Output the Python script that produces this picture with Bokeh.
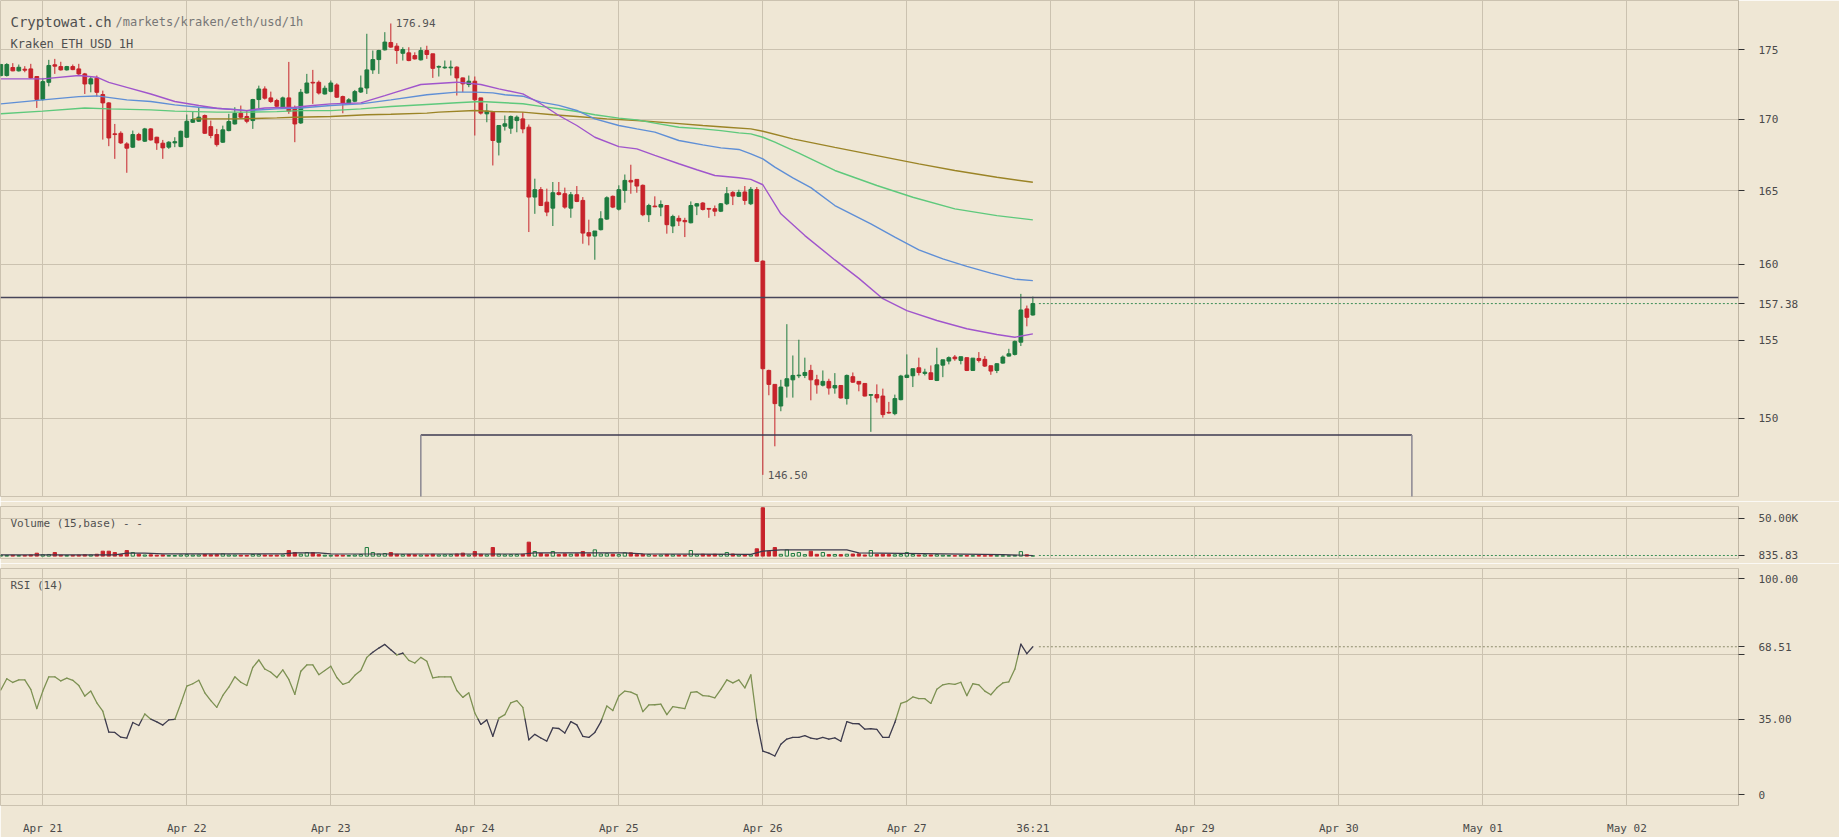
import pandas as pd
from bokeh.plotting import figure
from bokeh.layouts import column
from bokeh.models import Range1d, FixedTicker, Span, Label
from bokeh.embed import file_html
from bokeh.resources import INLINE
from bokeh.core.properties import value

# ---------------- data ----------------
first_candle = "2019-04-20 17:00"          # hourly candles from here on
day_starts = ["2019-04-21", "2019-04-22", "2019-04-23", "2019-04-24", "2019-04-25", "2019-04-26",
              "2019-04-27", "2019-04-28", "2019-04-29", "2019-04-30", "2019-05-01", "2019-05-02"]
day_labels = ["Apr 21", "Apr 22", "Apr 23", "Apr 24", "Apr 25", "Apr 26",
              "Apr 27", "", "Apr 29", "Apr 30", "May 01", "May 02"]
countdown_label = "36:21"
view_start = "2019-04-20 16:57"
view_end = "2019-05-02 18:36"

opens = [
    173.13, 173.13, 173.71, 173.47, 173.59, 173.61, 173.06, 171.40, 172.64, 173.91,
    173.78, 173.54, 173.78, 173.61, 173.25, 172.52, 172.94, 171.76, 171.16, 168.96,
    169.00, 168.25, 168.02, 168.91, 168.44, 169.31, 168.72, 168.30, 168.02, 168.32,
    168.06, 168.72, 169.78, 169.85, 170.26, 169.47, 168.91, 168.37, 169.19, 169.66,
    170.42, 170.19, 169.90, 171.40, 172.16, 171.52, 171.33, 170.80, 171.52, 170.80,
    169.73, 171.87, 172.64, 172.64, 171.80, 171.99, 172.45, 171.61, 171.14, 171.28,
    171.94, 172.23, 173.54, 174.29, 175.00, 175.54, 175.27, 174.75, 174.78, 174.58,
    174.27, 174.95, 174.71, 173.74, 173.69, 173.69, 173.74, 172.96, 172.48, 172.72,
    171.52, 170.38, 170.50, 168.37, 169.50, 169.36, 169.90, 170.02, 169.43, 164.55,
    165.06, 164.20, 163.79, 164.85, 164.78, 163.79, 164.71, 164.32, 162.12, 161.89,
    162.32, 163.04, 164.60, 163.72, 165.01, 165.70, 165.77, 165.36, 163.34, 163.93,
    163.86, 163.97, 162.57, 163.09, 162.95, 162.79, 163.93, 164.14, 163.77, 163.75,
    163.58, 164.09, 164.87, 164.60, 164.90, 164.09, 165.06, 160.20, 153.04, 152.15,
    150.78, 152.04, 152.44, 152.70, 152.72, 153.04, 152.44, 152.10, 152.34, 151.92,
    152.08, 151.25, 152.64, 152.34, 152.21, 151.46, 151.50, 151.41, 150.38, 150.30,
    151.18, 152.59, 152.70, 153.21, 152.85, 152.89, 152.40, 153.38, 153.64, 153.90,
    153.68, 153.86, 153.04, 153.81, 153.75, 153.34, 153.04, 153.51, 153.96, 154.07,
    154.86, 157.03, 156.63]
highs = [
    173.98, 174.03, 174.03, 173.93, 173.81, 173.98, 173.06, 172.96, 174.27, 174.34,
    174.13, 173.83, 173.93, 173.98, 173.32, 173.06, 173.13, 172.04, 171.21, 169.66,
    169.14, 168.37, 169.19, 169.03, 169.38, 169.36, 168.75, 168.53, 168.44, 168.72,
    169.19, 170.33, 170.57, 170.85, 170.33, 169.90, 169.31, 169.54, 170.38, 170.85,
    170.97, 170.66, 171.45, 172.40, 172.35, 171.97, 171.45, 171.61, 174.12, 170.97,
    172.16, 173.25, 173.54, 172.77, 172.40, 172.77, 172.57, 171.68, 171.50, 172.09,
    173.13, 176.18, 174.95, 175.00, 176.30, 176.94, 175.49, 175.19, 175.19, 174.82,
    175.19, 175.30, 174.71, 173.86, 174.22, 174.22, 173.80, 172.98, 173.13, 173.06,
    171.52, 171.10, 170.55, 169.55, 170.26, 170.26, 170.26, 170.50, 169.62, 165.82,
    165.24, 165.13, 165.59, 165.59, 165.20, 164.90, 165.31, 164.55, 163.00, 162.23,
    163.58, 164.60, 164.66, 165.36, 166.11, 166.79, 165.77, 165.42, 164.09, 164.60,
    164.32, 163.97, 163.34, 163.29, 163.13, 164.25, 164.14, 164.20, 163.77, 163.97,
    164.14, 165.24, 164.96, 165.06, 165.31, 165.24, 165.24, 160.25, 153.09, 152.15,
    152.44, 156.03, 154.00, 155.02, 153.86, 153.40, 152.76, 153.04, 152.51, 152.87,
    152.08, 152.78, 152.91, 152.34, 152.21, 151.50, 152.15, 151.88, 151.04, 151.50,
    152.76, 154.07, 153.15, 153.86, 153.15, 153.36, 154.50, 153.72, 153.94, 154.03,
    153.92, 153.86, 153.83, 154.22, 153.96, 153.34, 153.51, 154.00, 154.43, 154.97,
    158.02, 157.25, 157.84]
lows = [
    173.06, 173.06, 173.44, 173.42, 173.37, 172.89, 170.80, 171.33, 172.35, 173.25,
    173.49, 173.49, 173.52, 173.13, 171.80, 171.92, 171.61, 168.55, 168.09, 167.20,
    168.25, 166.23, 167.97, 168.48, 168.39, 168.48, 167.83, 167.20, 167.90, 168.02,
    168.02, 168.67, 169.73, 169.80, 168.96, 168.65, 168.06, 168.32, 169.14, 169.62,
    170.02, 169.71, 169.31, 170.76, 171.40, 171.16, 170.80, 170.73, 170.38, 168.37,
    169.66, 171.83, 171.09, 171.76, 171.76, 171.92, 171.52, 170.42, 171.09, 171.21,
    171.87, 171.80, 173.25, 173.25, 174.95, 175.15, 173.98, 174.22, 174.17, 174.29,
    174.22, 174.34, 172.96, 173.06, 173.62, 173.13, 171.69, 171.93, 172.29, 168.84,
    170.33, 169.78, 166.74, 167.44, 169.19, 168.96, 169.07, 169.00, 162.16, 163.40,
    163.93, 163.24, 162.57, 164.66, 163.75, 163.13, 164.20, 161.37, 161.26, 160.29,
    162.27, 162.99, 163.79, 163.63, 164.16, 164.78, 164.85, 163.24, 162.84, 163.86,
    163.24, 162.05, 162.09, 162.57, 161.82, 162.75, 163.31, 163.63, 163.13, 163.24,
    163.52, 164.00, 164.00, 164.55, 164.02, 164.00, 160.14, 146.50, 151.46, 148.26,
    150.45, 151.31, 151.31, 152.55, 152.55, 151.14, 151.56, 152.02, 151.50, 151.56,
    151.25, 150.87, 152.25, 151.71, 151.39, 149.16, 151.00, 150.05, 150.30, 150.20,
    151.14, 152.55, 151.98, 152.72, 152.72, 152.44, 152.36, 152.61, 153.43, 153.66,
    153.43, 153.00, 153.04, 153.55, 153.26, 152.76, 152.87, 153.47, 153.94, 154.00,
    154.61, 155.89, 156.59]
closes = [
    173.93, 173.93, 173.47, 173.73, 173.52, 172.96, 171.40, 172.69, 173.86, 173.81,
    173.54, 173.78, 173.56, 173.25, 172.52, 172.89, 171.92, 171.16, 168.67, 168.91,
    168.32, 167.95, 168.91, 168.53, 169.31, 168.53, 168.32, 167.97, 168.37, 168.41,
    169.14, 169.85, 169.97, 170.14, 169.00, 168.84, 168.20, 169.24, 169.83, 170.42,
    170.14, 169.85, 171.40, 172.16, 171.50, 171.26, 170.92, 171.52, 170.57, 169.66,
    171.92, 172.59, 172.59, 171.87, 172.21, 172.59, 171.57, 171.16, 171.38, 171.97,
    172.23, 173.54, 174.29, 174.95, 175.57, 175.20, 174.95, 175.02, 174.22, 174.34,
    174.95, 174.66, 173.65, 173.79, 173.74, 173.74, 172.96, 172.53, 172.72, 171.38,
    170.43, 170.57, 168.49, 169.55, 169.67, 170.19, 170.14, 169.31, 164.55, 165.06,
    163.97, 163.52, 164.85, 164.73, 163.86, 164.71, 164.25, 162.09, 161.89, 162.23,
    163.06, 164.50, 163.86, 165.06, 165.70, 165.59, 165.31, 163.34, 163.97, 163.88,
    164.04, 162.66, 163.22, 162.91, 162.86, 163.97, 164.09, 163.70, 163.72, 163.58,
    164.09, 164.78, 164.62, 164.87, 164.32, 165.08, 160.18, 153.15, 152.15, 150.93,
    151.98, 152.51, 152.72, 152.74, 152.91, 152.44, 152.12, 152.34, 151.92, 152.08,
    151.29, 152.72, 152.29, 152.17, 151.41, 151.50, 151.29, 150.24, 150.34, 151.25,
    152.68, 152.74, 153.15, 152.91, 152.93, 152.46, 153.40, 153.72, 153.86, 153.79,
    153.92, 153.04, 153.83, 153.68, 153.32, 153.00, 153.47, 153.90, 154.11, 154.91,
    156.96, 156.48, 157.38]
volumes = [
    1200, 900, 1100, 800, 900, 1500, 3900, 1800, 2200, 4800, 1200, 900,
    1000, 1300, 1800, 1500, 2500, 6600, 6600, 4800, 2000, 7500, 4800, 2600,
    1500, 1800, 1200, 1600, 900, 800, 1500, 2000, 1400, 1600, 2200, 1800,
    2000, 3000, 1500, 1400, 1200, 1000, 2200, 2000, 1500, 1200, 1300, 1500,
    7500, 4800, 2600, 4800, 4800, 2000, 1200, 1000, 1500, 1200, 800, 1500,
    2200, 11500, 4800, 2800, 3500, 4800, 2400, 2000, 2200, 1800, 1500, 1600,
    2500, 1600, 1800, 2000, 2800, 4000, 1500, 6200, 2500, 1800, 11500, 2500,
    1800, 2000, 2200, 2500, 18700, 6200, 3500, 2500, 6200, 2000, 3000, 2500,
    3000, 6200, 2800, 8400, 2800, 3200, 2500, 2000, 4400, 4400, 2000, 2500,
    2000, 1200, 1500, 2200, 1800, 1500, 1200, 7500, 2000, 2500, 1800, 2500,
    2200, 4800, 2800, 1500, 1800, 1600, 9800, 64800, 6600, 11500, 2400, 8400,
    3500, 4800, 2000, 6600, 2400, 4800, 2000, 2200, 2000, 2500, 2800, 3000,
    1500, 7500, 2200, 2500, 2000, 1800, 2200, 4800, 2200, 1500, 1800, 1600,
    2000, 1200, 800, 600, 900, 700, 600, 800, 500, 700, 600, 500,
    500, 900, 6000, 1800, 500]
rsi = [
    48.5, 53.7, 52.0, 53.2, 53.2, 48.8, 39.9, 48.0, 54.6, 54.6, 52.7, 54.0,
    53.0, 50.6, 45.7, 48.0, 42.6, 38.7, 29.0, 28.9, 26.7, 26.3, 33.5, 32.1,
    37.4, 35.0, 33.8, 32.3, 34.7, 34.9, 42.3, 50.3, 51.4, 53.0, 47.2, 43.6,
    40.5, 46.0, 49.8, 54.6, 52.1, 50.6, 59.0, 62.4, 58.2, 56.7, 54.3, 57.8,
    53.4, 46.5, 57.2, 60.1, 60.1, 55.6, 57.5, 59.5, 54.3, 51.1, 52.1, 55.3,
    57.5, 63.6, 66.0, 67.9, 69.6, 67.1, 64.7, 65.6, 62.2, 61.0, 63.6, 61.8,
    54.1, 54.6, 54.6, 54.6, 48.3, 45.1, 47.2, 37.9, 32.6, 34.7, 27.1, 35.5,
    37.1, 42.6, 43.6, 40.5, 25.5, 28.0, 26.3, 24.9, 31.0, 30.7, 28.6, 33.9,
    32.4, 27.1, 26.6, 28.9, 33.8, 41.1, 39.0, 45.7, 48.0, 47.5, 46.3, 38.5,
    41.6, 41.7, 42.0, 37.1, 40.8, 40.4, 39.9, 47.4, 47.7, 45.9, 45.7, 44.9,
    48.8, 53.2, 51.8, 53.2, 49.5, 55.5, 34.2, 20.2, 19.3, 18.0, 23.4, 25.8,
    26.6, 26.6, 27.4, 26.3, 25.8, 26.6, 25.8, 26.4, 24.8, 33.9, 33.0, 32.9,
    30.4, 30.6, 30.3, 26.6, 26.6, 33.5, 42.3, 43.3, 45.3, 44.5, 44.5, 42.3,
    48.9, 50.9, 51.5, 51.1, 52.1, 45.9, 51.4, 50.9, 48.0, 46.3, 49.5, 51.8,
    52.3, 58.2, 69.7, 65.3, 68.51]

# moving averages read at points (hours after Apr 21 00:00)
ma_fast_hours = [-7, 0, 6, 9, 11, 14, 18, 22, 26, 29, 34, 37, 42, 45, 48, 53, 57, 59, 63, 69, 73, 76, 80, 83,
                 86, 89, 92, 96, 99, 102, 106, 109, 112, 116, 118, 120, 123, 127, 132, 136, 140, 144, 149,
                 154, 159, 162, 165]
ma_fast = [172.89, 172.89, 173.13, 173.01, 172.64, 172.28, 171.80, 171.26, 170.97, 170.78, 170.61, 170.80,
           170.85, 170.97, 171.09, 171.16, 171.68, 171.95, 172.48, 172.65, 172.48, 172.17, 171.81, 171.10,
           170.26, 169.55, 168.72, 168.06, 167.90, 167.44, 166.86, 166.44, 166.04, 165.88, 165.77, 165.40,
           163.40, 161.92, 160.28, 159.05, 157.70, 156.92, 156.27, 155.73, 155.36, 155.18, 155.40]
ma_mid_hours = [-7, 0, 6, 9, 14, 18, 22, 26, 32, 34, 39, 43, 48, 53, 58, 64, 69, 72, 75, 77, 80, 83, 86, 89,
                92, 96, 99, 102, 106, 110, 113, 116, 118, 120, 122, 125, 128, 132, 138, 142, 146, 150, 154,
                158, 162, 165]
ma_mid = [171.09, 171.38, 171.61, 171.66, 171.38, 171.26, 171.02, 170.85, 170.69, 170.61, 170.73, 170.80,
          170.97, 171.09, 171.38, 171.74, 171.93, 171.93, 171.88, 171.74, 171.64, 171.22, 170.98, 170.62,
          170.02, 169.55, 169.31, 169.08, 168.49, 168.18, 167.97, 167.86, 167.55, 167.20, 166.62, 165.88,
          165.20, 163.97, 162.72, 161.81, 160.95, 160.35, 159.85, 159.40, 159.00, 158.90]
ma_slow_hours = [-7, 0, 7, 11, 18, 22, 29, 34, 39, 43, 48, 53, 58, 64, 69, 73, 77, 80, 83, 86, 89, 92, 96,
                 99, 102, 106, 110, 113, 116, 118, 120, 122, 126, 132, 139, 145, 152, 159, 165]
ma_slow = [170.38, 170.57, 170.80, 170.73, 170.66, 170.57, 170.50, 170.50, 170.54, 170.61, 170.61, 170.73,
           170.90, 171.05, 171.17, 171.26, 171.17, 171.10, 170.91, 170.74, 170.55, 170.31, 170.07, 169.95,
           169.72, 169.43, 169.31, 169.19, 169.03, 168.96, 168.72, 168.37, 167.60, 166.39, 165.35, 164.54,
           163.74, 163.28, 162.99]
ma_long_hours = [25, 32, 39, 42, 48, 54, 58, 64, 66, 72, 75, 80, 85, 89, 94, 99, 105, 110, 114, 118, 120,
                 125, 132, 139, 146, 152, 159, 165]
ma_long = [170.02, 170.02, 170.09, 170.14, 170.19, 170.31, 170.35, 170.43, 170.50, 170.62, 170.55, 170.50,
           170.31, 170.19, 170.02, 169.90, 169.72, 169.55, 169.43, 169.31, 169.14, 168.60, 168.01, 167.43,
           166.85, 166.39, 165.92, 165.57]
vol_ma_hours = [-7, 12, 14, 17, 20, 40, 42, 46, 48, 80, 82, 97, 100, 118, 120, 123, 134, 136, 150, 160, 165]
vol_ma = [1700, 1700, 4000, 4000, 3000, 3000, 4300, 4300, 3000, 2800, 4400, 4400, 3000, 2400, 6600, 8400,
          8400, 4400, 3000, 2000, 835.83]

price_ticks = [150, 155, 160, 165, 170, 175]
last_price = 157.38
hline_price = 157.78
box_top = 148.97
box_start = "2019-04-23 15:00"
box_end = "2019-04-30 12:10"
vol_ticks = [835.83, 50000]
vol_tick_labels = ["835.83", "50.00K"]
rsi_ticks = [0, 35, 65, 100]
rsi_tick_labels = ["0", "35.00", "", "100.00"]
rsi_last = 68.51

for arr in (highs, lows, closes, volumes, rsi):
    assert len(arr) == len(opens), (len(arr), len(opens))

# ---------------- helpers ----------------
def ms(t):
    return pd.Timestamp(t).value / 1e6

HOUR = 3600 * 1000.0
T0 = ms(day_starts[0])
times = [ms(t) for t in pd.date_range(first_candle, periods=len(opens), freq="h")]
def hours_to_ms(hs):
    return [T0 + h * HOUR for h in hs]

BG = "#efe7d5"
GRID = "#cbc2b0"
UP = "#1e7b3f"
DOWN = "#c7232b"
FONT = "DejaVu Sans Mono"
TXT = "#4a4a4a"
W = 1839

xr = Range1d(ms(view_start), ms(view_end))
x0v, x1v = ms(view_start), ms(view_end)

day_ms = [ms(d) for d in day_starts]
axis_ticks = [d for d, l in zip(day_ms, day_labels) if l] + [times[-1]]
axis_overrides = {d: l for d, l in zip(day_ms, day_labels) if l}
axis_overrides[times[-1]] = countdown_label


def style(p, yticks, ygrid_ticks, overrides):
    p.xgrid.ticker = FixedTicker(ticks=day_ms)
    p.ygrid.ticker = FixedTicker(ticks=ygrid_ticks)
    for g in (p.xgrid, p.ygrid):
        g.grid_line_color = GRID
        g.grid_line_width = 1
    ax = p.yaxis[0]
    ax.ticker = FixedTicker(ticks=yticks)
    ax.major_label_overrides = overrides
    ax.axis_line_color = "#bfb6a4"
    ax.major_tick_line_color = "#333333"
    ax.major_tick_in = 0
    ax.major_tick_out = 6
    ax.minor_tick_line_color = None
    ax.major_label_standoff = 14
    ax.major_label_text_font = FONT
    ax.major_label_text_font_size = "11px"
    ax.major_label_text_color = TXT


common = dict(width=W, output_backend="svg", toolbar_location=None, x_range=xr,
              background_fill_color=BG, border_fill_color=BG, min_border_left=0,
              min_border_right=101, outline_line_color=GRID, y_axis_location="right")

# ---------------- main price panel ----------------
price_range = Range1d(145.18, 178.65)
p1 = figure(height=501, y_axis_type="log", y_range=price_range, x_axis_location=None,
            min_border_top=0, min_border_bottom=5, **common)
ov = {t: str(t) for t in price_ticks}
ov[last_price] = f"{last_price:.2f}"
style(p1, price_ticks + [last_price], price_ticks, ov)

cols = [UP if c >= o else DOWN for o, c in zip(opens, closes)]
tops = [max(o, c) for o, c in zip(opens, closes)]
bots = [min(o, c) for o, c in zip(opens, closes)]
p1.segment(x0=times, y0=lows, x1=times, y1=highs, line_color=cols, line_width=1)
p1.vbar(x=times, width=0.62 * HOUR, top=tops, bottom=bots, fill_color=cols, line_color=cols, line_width=1)

p1.line(hours_to_ms(ma_long_hours), ma_long, line_color="#9b8426", line_width=1.4)
p1.line(hours_to_ms(ma_slow_hours), ma_slow, line_color="#5ec97c", line_width=1.4)
p1.line(hours_to_ms(ma_mid_hours), ma_mid, line_color="#5f8fd6", line_width=1.4)
p1.line(hours_to_ms(ma_fast_hours), ma_fast, line_color="#a055cc", line_width=1.4)

p1.add_layout(Span(location=hline_price, dimension="width", line_color="#47455a", line_width=1.5))
bx0, bx1 = ms(box_start), ms(box_end)
p1.segment(x0=[bx0], y0=[box_top], x1=[bx1], y1=[box_top], line_color="#3c3a50", line_width=1.5)
p1.segment(x0=[bx0, bx1], y0=[box_top, box_top], x1=[bx0, bx1], y1=[price_range.start * 0.95] * 2,
           line_color="#8a8792", line_width=1.5)
p1.segment(x0=[times[-1] + HOUR], y0=[last_price], x1=[x1v], y1=[last_price],
           line_color="#3d8f58", line_width=1, line_dash="2 2")

i_hi = highs.index(max(highs))
i_lo = lows.index(min(lows))
p1.text(x=[times[i_hi], times[i_lo]], y=[highs[i_hi], lows[i_lo]],
        text=[f"{highs[i_hi]:.2f}", f"{lows[i_lo]:.2f}"], x_offset=5,
        text_baseline="middle", text_font=value(FONT), text_font_size="11px", text_color="#555555")

p1.add_layout(Label(x=x0v, y=price_range.end, x_offset=10, y_offset=-21, text="Cryptowat.ch",
                    text_baseline="middle", text_font=FONT, text_font_size="14px", text_color="#505050"))
p1.add_layout(Label(x=x0v, y=price_range.end, x_offset=115, y_offset=-21, text="/markets/kraken/eth/usd/1h",
                    text_baseline="middle", text_font=FONT, text_font_size="12px", text_color="#777777"))
p1.add_layout(Label(x=x0v, y=price_range.end, x_offset=10, y_offset=-43.5, text="Kraken ETH USD 1H",
                    text_baseline="middle", text_font=FONT, text_font_size="12px", text_color="#505050"))

# ---------------- volume panel ----------------
vol_range = Range1d(-3200, 66500)
p2 = figure(height=62, y_range=vol_range, x_axis_location=None,
            min_border_top=5, min_border_bottom=5, **common)
style(p2, vol_ticks, [vol_ticks[1]], dict(zip(vol_ticks, vol_tick_labels)))
vfill = [DOWN if c == DOWN else BG for c in cols]
p2.vbar(x=times, width=0.55 * HOUR, top=volumes, bottom=0, fill_color=vfill, line_color=cols, line_width=1)
p2.line(hours_to_ms(vol_ma_hours), vol_ma, line_color="#3c3a4c", line_width=1.2)
p2.segment(x0=[times[-1] + HOUR], y0=[vol_ma[-1]], x1=[x1v], y1=[vol_ma[-1]],
           line_color="#3d8f58", line_width=1, line_dash="2 2")
p2.add_layout(Label(x=x0v, y=vol_range.end, x_offset=10, y_offset=-16.5, text="Volume (15,base) - -",
                    text_baseline="middle", text_font=FONT, text_font_size="11px", text_color="#505050"))
p2.add_layout(Label(x=x1v, y=vol_range.end, x_offset=86, y_offset=-16, text="x",
                    text_align="center", text_baseline="middle", text_font=FONT, text_font_size="10px",
                    text_color="#666666", border_line_color="#8a8a8a", padding=1))

# ---------------- RSI panel ----------------
rsi_range = Range1d(-4.9, 104.7)
p3 = figure(height=274, y_range=rsi_range, min_border_top=5, min_border_bottom=30, **common)
style(p3, rsi_ticks + [rsi_last], rsi_ticks,
      {**dict(zip(rsi_ticks, rsi_tick_labels)), rsi_last: f"{rsi_last:.2f}"})
ax = p3.xaxis[0]
ax.ticker = FixedTicker(ticks=axis_ticks)
ax.major_label_overrides = axis_overrides
ax.axis_line_color = None
ax.major_tick_line_color = None
ax.minor_tick_line_color = None
ax.major_label_standoff = 10
ax.major_label_text_font = FONT
ax.major_label_text_font_size = "11px"
ax.major_label_text_color = TXT

OLIVE = "#7d9153"
DARK = "#3e3c4e"
lo_b, hi_b = rsi_ticks[1], rsi_ticks[2]
sx0, sy0, sx1, sy1, scol = [], [], [], [], []
for i in range(len(rsi) - 1):
    xa, ya, xb, yb = times[i], rsi[i], times[i + 1], rsi[i + 1]
    cuts = [0.0, 1.0]
    for lv in (lo_b, hi_b):
        if (ya - lv) * (yb - lv) < 0:
            cuts.append((lv - ya) / (yb - ya))
    cuts.sort()
    for a, b in zip(cuts[:-1], cuts[1:]):
        px0, py0 = xa + (xb - xa) * a, ya + (yb - ya) * a
        px1, py1 = xa + (xb - xa) * b, ya + (yb - ya) * b
        mid = (py0 + py1) / 2
        sx0.append(px0); sy0.append(py0); sx1.append(px1); sy1.append(py1)
        scol.append(DARK if (mid < lo_b or mid > hi_b) else OLIVE)
p3.segment(x0=sx0, y0=sy0, x1=sx1, y1=sy1, line_color=scol, line_width=1.3, line_cap="round")
p3.segment(x0=[times[-1] + HOUR], y0=[rsi_last], x1=[x1v], y1=[rsi_last],
           line_color="#8e8c6c", line_width=1, line_dash="2 2")
p3.add_layout(Label(x=x0v, y=rsi_range.end, x_offset=10, y_offset=-16.5, text="RSI (14)",
                    text_baseline="middle", text_font=FONT, text_font_size="11px", text_color="#505050"))
p3.add_layout(Label(x=x1v, y=rsi_range.end, x_offset=86, y_offset=-16, text="x",
                    text_align="center", text_baseline="middle", text_font=FONT, text_font_size="10px",
                    text_color="#666666", border_line_color="#8a8a8a", padding=1))

layout = column(p1, p2, p3, spacing=0)
open("out.html", "w").write(file_html(layout, INLINE))
